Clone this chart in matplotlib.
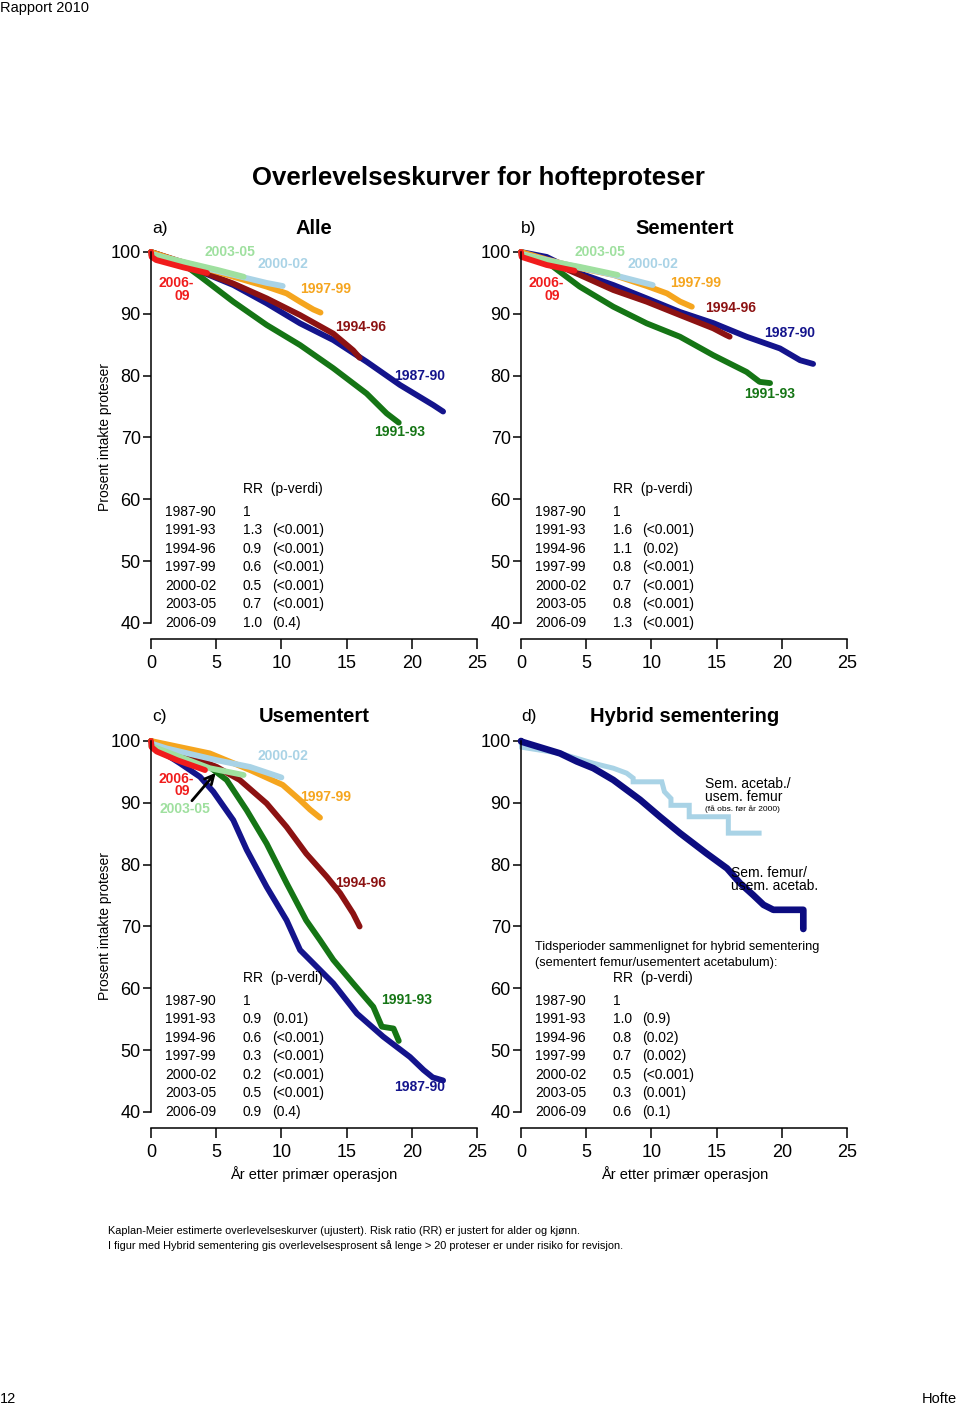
import matplotlib
matplotlib.use('Agg')
import matplotlib.pyplot as plt

plt.rcParams['font.family'] = ['Liberation Sans', 'DejaVu Sans']

# ---------------- data ----------------
periods = ['1987-90', '1991-93', '1994-96', '1997-99', '2000-02', '2003-05', '2006-09']
colors = ['#14148c', '#157515', '#8c1212', '#f5a51e', '#a9d3e6', '#9fe09f', '#f01c1c']

# Panel a) Alle
a_t = {
    '1987-90': [0, 2.5, 4.2, 6.31, 8.87, 11.43, 13.98, 16.54, 19.09, 21.65, 22.4],
    '1991-93': [0, 2.5, 3.8, 6.31, 8.87, 11.43, 13.98, 16.54, 18.07, 19.0],
    '1994-96': [0, 2.5, 3.8, 6.31, 8.87, 11.43, 13.98, 15.5, 16.0],
    '1997-99': [0, 2.0, 3.8, 6.31, 8.87, 10.4, 11.43, 12.45, 13.0],
    '2000-02': [0, 2.0, 3.8, 6.31, 8.87, 10.1],
    '2003-05': [0, 2.5, 5.1, 7.1],
    '2006-09': [0, 0.05, 0.4, 2.5, 4.3],
}
a_y = {
    '1987-90': [100, 98.2, 96.5, 94.66, 91.7, 88.46, 85.76, 82.25, 78.5, 75.24, 74.2],
    '1991-93': [100, 98.0, 96.0, 91.96, 88.2, 84.95, 81.2, 77.1, 73.9, 72.4],
    '1994-96': [100, 98.3, 96.9, 94.9, 92.5, 89.8, 86.8, 84.1, 82.9],
    '1997-99': [100, 98.6, 97.6, 96.0, 94.4, 93.3, 91.96, 90.7, 90.2],
    '2000-02': [99.7, 98.6, 97.6, 96.3, 95.0, 94.5],
    '2003-05': [99.6, 98.4, 97.1, 96.0],
    '2006-09': [100, 99.2, 98.7, 97.5, 96.6],
}

# Panel b) Sementert
b_t = {
    '1987-90': [0, 1.97, 4.5, 7.08, 9.64, 12.19, 14.75, 17.3, 19.86, 21.4, 22.4],
    '1991-93': [0, 1.97, 4.5, 7.08, 9.64, 12.19, 14.75, 17.3, 18.3, 19.1],
    '1994-96': [0, 1.97, 4.5, 7.08, 9.64, 12.19, 14.75, 15.7, 16.0],
    '1997-99': [0, 1.97, 4.5, 7.08, 9.64, 11.2, 12.19, 13.1],
    '2000-02': [0, 1.97, 4.5, 7.08, 10.1],
    '2003-05': [0, 1.97, 4.5, 7.4],
    '2006-09': [0, 0.05, 1.97, 4.1],
}
b_y = {
    '1987-90': [100, 99.2, 96.55, 94.66, 92.5, 90.3, 88.5, 86.3, 84.4, 82.5, 81.9],
    '1991-93': [100, 98.4, 94.4, 91.15, 88.46, 86.3, 83.3, 80.6, 79.0, 78.8],
    '1994-96': [100, 98.6, 96.3, 93.85, 91.96, 89.8, 87.65, 86.6, 86.3],
    '1997-99': [100, 98.8, 97.4, 96.3, 94.5, 93.3, 92.0, 91.15],
    '2000-02': [99.7, 98.7, 97.5, 96.3, 94.66],
    '2003-05': [99.6, 98.6, 97.6, 96.3],
    '2006-09': [100, 99.2, 97.9, 96.97],
}

# Panel c) Usementert
c_t = {
    '1987-90': [0, 0.44, 2.22, 3.76, 4.78, 6.31, 7.34, 8.87, 10.4, 11.43, 13.98, 15.8, 17.8, 19.86, 20.9, 21.6, 22.4],
    '1991-93': [0, 2.5, 4.5, 5.8, 7.34, 8.87, 10.4, 11.9, 12.96, 13.98, 15.5, 17.05, 17.7, 18.6, 18.8, 19.0],
    '1994-96': [0, 2.5, 5.04, 6.8, 8.87, 10.4, 11.9, 13.5, 14.5, 15.5, 16.0],
    '1997-99': [0, 4.5, 7.6, 10.1, 11.4, 12.2, 12.96],
    '2000-02': [0, 1.2, 5.04, 7.6, 10.0],
    '2003-05': [0, 2.5, 4.5, 7.1],
    '2006-09': [0, 0.05, 0.44, 2.0, 4.14],
}
c_y = {
    '1987-90': [100, 98.8, 96.4, 94.2, 91.8, 87.2, 82.4, 76.4, 71.0, 66.2, 60.8, 55.9, 52.2, 48.9, 46.8, 45.6, 45.1],
    '1991-93': [100, 97.5, 95.8, 93.7, 88.8, 83.4, 77.0, 71.0, 67.8, 64.6, 60.8, 57.0, 53.8, 53.5, 52.5, 51.5],
    '1994-96': [100, 98.0, 95.8, 93.7, 89.9, 86.1, 81.8, 78.0, 75.4, 72.1, 70.0],
    '1997-99': [100, 98.0, 95.3, 92.9, 90.5, 88.9, 87.6],
    '2000-02': [99.6, 98.8, 96.9, 95.8, 94.1],
    '2003-05': [99.2, 97.2, 95.6, 94.5],
    '2006-09': [100, 99.0, 98.3, 96.9, 95.3],
}

# Panel d) Hybrid sementering
d_labels = ['Sem. femur/usem. acetab.', 'Sem. acetab./usem. femur']
d_colors = ['#0c0c80', '#a9d3e6']
d_femur_t = [0, 0.03, 2.99, 4.27, 5.55, 7.08, 9.13, 10.66, 12.19, 14.24, 15.8, 16.8, 17.8, 18.6, 19.35, 21.65, 21.65]
d_femur_y = [100, 99.9, 98.0, 96.7, 95.6, 93.7, 90.5, 87.75, 85.1, 81.8, 79.4, 77.0, 75.1, 73.5, 72.7, 72.7, 69.6]
d_acet_t = [0, 0.05, 3.0, 5.55, 7.08, 8.1, 8.6, 8.6, 10.8, 11.0, 11.5, 11.5, 12.9, 12.9, 15.9, 15.9, 18.45]
d_acet_y = [100, 99.0, 98.0, 96.4, 95.6, 94.8, 94.0, 93.4, 93.4, 91.8, 90.7, 89.6, 89.6, 87.75, 87.75, 85.1, 85.1]

# RR tables
rr_a = ['1', '1.3', '0.9', '0.6', '0.5', '0.7', '1.0']
p_a = ['', '(<0.001)', '(<0.001)', '(<0.001)', '(<0.001)', '(<0.001)', '(0.4)']
rr_b = ['1', '1.6', '1.1', '0.8', '0.7', '0.8', '1.3']
p_b = ['', '(<0.001)', '(0.02)', '(<0.001)', '(<0.001)', '(<0.001)', '(<0.001)']
rr_c = ['1', '0.9', '0.6', '0.3', '0.2', '0.5', '0.9']
p_c = ['', '(0.01)', '(<0.001)', '(<0.001)', '(<0.001)', '(<0.001)', '(0.4)']
rr_d = ['1', '1.0', '0.8', '0.7', '0.5', '0.3', '0.6']
p_d = ['', '(0.9)', '(0.02)', '(0.002)', '(<0.001)', '(0.001)', '(0.1)']

x_ticks = [0, 5, 10, 15, 20, 25]
y_ticks = [40, 50, 60, 70, 80, 90, 100]

# ---------------- figure ----------------
W, H = 960, 1407
fig = plt.figure(figsize=(W / 100, H / 100), dpi=100)


def ax_at(x0, y100, x25, y40):
    return fig.add_axes([x0 / W, 1 - y40 / H, (x25 - x0) / W, (y40 - y100) / H])


def style(ax):
    ax.set_xlim(0, 25)
    ax.set_ylim(40, 100)
    ax.patch.set_alpha(0)
    for s in ['top', 'right']:
        ax.spines[s].set_visible(False)
    for s in ['left', 'bottom']:
        ax.spines[s].set_linewidth(1.1)
    ax.spines['bottom'].set_position(('outward', 11.5))
    ax.set_xticks(x_ticks)
    ax.set_yticks(y_ticks)
    ax.tick_params(axis='y', direction='out', length=5.8, width=1.1, pad=1.5, labelsize=13)
    ax.tick_params(axis='x', direction='out', length=7.2, width=1.1, pad=4, labelsize=13)


def curves(ax, tdict, ydict, lw=4.2):
    order = ['1987-90', '1991-93', '1994-96', '1997-99', '2000-02', '2003-05', '2006-09']
    for p in order:
        ax.plot(tdict[p], ydict[p], color=colors[periods.index(p)], lw=lw,
                solid_capstyle='round', solid_joinstyle='round', clip_on=False)


def table(ax, rr, pv):
    ax.text(7.05, 61.65, 'RR  (p-verdi)', fontsize=10, va='center', ha='left')
    for i, per in enumerate(periods):
        yy = 57.95 - i * 2.99
        ax.text(1.07, yy, per, fontsize=10, va='center', ha='left')
        ax.text(7.05, yy, rr[i], fontsize=10, va='center', ha='left')
        if pv[i]:
            ax.text(9.28, yy, pv[i], fontsize=10, va='center', ha='left')


def lab(ax, x, y, s, per, **kw):
    ax.text(x, y, s, color=colors[periods.index(per)], fontsize=10, fontweight='bold',
            ha='center', va='center', **kw)


axa = ax_at(151, 252, 477, 623)
axb = ax_at(521, 252, 847, 623)
axc = ax_at(151, 741, 477, 1112)
axd = ax_at(521, 741, 847, 1112)
for ax in (axa, axb, axc, axd):
    style(ax)

# panel a
curves(axa, a_t, a_y)
lab(axa, 6.06, 100.0, '2003-05', '2003-05')
lab(axa, 10.1, 98.1, '2000-02', '2000-02')
lab(axa, 13.4, 94.0, '1997-99', '1997-99')
lab(axa, 1.95, 94.95, '2006-', '2006-09')
lab(axa, 2.4, 92.9, '09', '2006-09')
lab(axa, 16.1, 87.9, '1994-96', '1994-96')
lab(axa, 20.6, 79.9, '1987-90', '1987-90')
lab(axa, 19.1, 70.9, '1991-93', '1991-93')
table(axa, rr_a, p_a)

# panel b
curves(axb, b_t, b_y)
lab(axb, 6.06, 100.0, '2003-05', '2003-05')
lab(axb, 10.1, 98.1, '2000-02', '2000-02')
lab(axb, 13.4, 95.0, '1997-99', '1997-99')
lab(axb, 1.95, 94.95, '2006-', '2006-09')
lab(axb, 2.4, 92.9, '09', '2006-09')
lab(axb, 16.1, 90.9, '1994-96', '1994-96')
lab(axb, 20.6, 86.9, '1987-90', '1987-90')
lab(axb, 19.1, 77.0, '1991-93', '1991-93')
table(axb, rr_b, p_b)

# panel c
curves(axc, c_t, c_y)
lab(axc, 10.1, 97.6, '2000-02', '2000-02')
lab(axc, 1.95, 93.9, '2006-', '2006-09')
lab(axc, 2.4, 91.9, '09', '2006-09')
lab(axc, 2.6, 89.0, '2003-05', '2003-05')
lab(axc, 13.4, 90.9, '1997-99', '1997-99')
lab(axc, 16.1, 77.0, '1994-96', '1994-96')
lab(axc, 19.6, 58.1, '1991-93', '1991-93')
lab(axc, 20.6, 44.0, '1987-90', '1987-90')
axc.annotate('', xy=(5.1, 95.2), xytext=(3.0, 90.0),
             arrowprops=dict(arrowstyle='->', lw=2, color='black', mutation_scale=16))
table(axc, rr_c, p_c)

# panel d
axd.plot(d_acet_t, d_acet_y, color=d_colors[1], lw=3.6, solid_capstyle='butt',
         solid_joinstyle='miter', clip_on=False)
axd.plot(d_femur_t, d_femur_y, color=d_colors[0], lw=4.8, solid_capstyle='round',
         solid_joinstyle='round', clip_on=False)
axd.text(14.1, 93.05, 'Sem. acetab./', fontsize=10, ha='left', va='center')
axd.text(14.1, 90.95, 'usem. femur', fontsize=10, ha='left', va='center')
axd.text(14.1, 88.9, '(få obs. før år 2000)', fontsize=6, ha='left', va='center')
axd.text(16.1, 78.6, 'Sem. femur/', fontsize=10, ha='left', va='center')
axd.text(16.1, 76.5, 'usem. acetab.', fontsize=10, ha='left', va='center')
axd.text(1.07, 66.7, 'Tidsperioder sammenlignet for hybrid sementering', fontsize=9.2,
         ha='left', va='center')
axd.text(1.07, 64.15, '(sementert femur/usementert acetabulum):', fontsize=9.2,
         ha='left', va='center')
table(axd, rr_d, p_d)

# titles / labels
fig.text(478 / W, 1 - 178 / H, 'Overlevelseskurver for hofteproteser', fontsize=18.5,
         fontweight='bold', ha='center', va='center')
for x, y, s in [(152, 228, 'a)'), (521, 228, 'b)'), (152, 717, 'c)'), (521, 717, 'd)')]:
    fig.text(x / W, 1 - y / H, s, fontsize=12.5, ha='left', va='center')
for x, y, s in [(314, 228, 'Alle'), (685, 228, 'Sementert'), (314, 717, 'Usementert'),
                (685, 717, 'Hybrid sementering')]:
    fig.text(x / W, 1 - y / H, s, fontsize=14.5, fontweight='bold', ha='center', va='center')
for y in (437, 926):
    fig.text(105 / W, 1 - y / H, 'Prosent intakte proteser', fontsize=10, rotation=90,
             ha='center', va='center')
for x in (314, 685):
    fig.text(x / W, 1 - 1174 / H, 'År etter primær operasjon', fontsize=10.5,
             ha='center', va='center')

fig.text(108 / W, 1 - 1231 / H,
         'Kaplan-Meier estimerte overlevelseskurver (ujustert). Risk ratio (RR) er justert for alder og kjønn.',
         fontsize=7.9, ha='left', va='center')
fig.text(108 / W, 1 - 1246 / H,
         'I figur med Hybrid sementering gis overlevelsesprosent så lenge > 20 proteser er under risiko for revisjon.',
         fontsize=7.9, ha='left', va='center')

fig.text(0, 1 - 8 / H, 'Rapport 2010', fontsize=10.5, ha='left', va='center')
fig.text(0, 1 - 1399 / H, '12', fontsize=10.5, ha='left', va='center')
fig.text(957 / W, 1 - 1399 / H, 'Hofte', fontsize=10.5, ha='right', va='center')

fig.savefig('out.png', dpi=100, facecolor='white')
